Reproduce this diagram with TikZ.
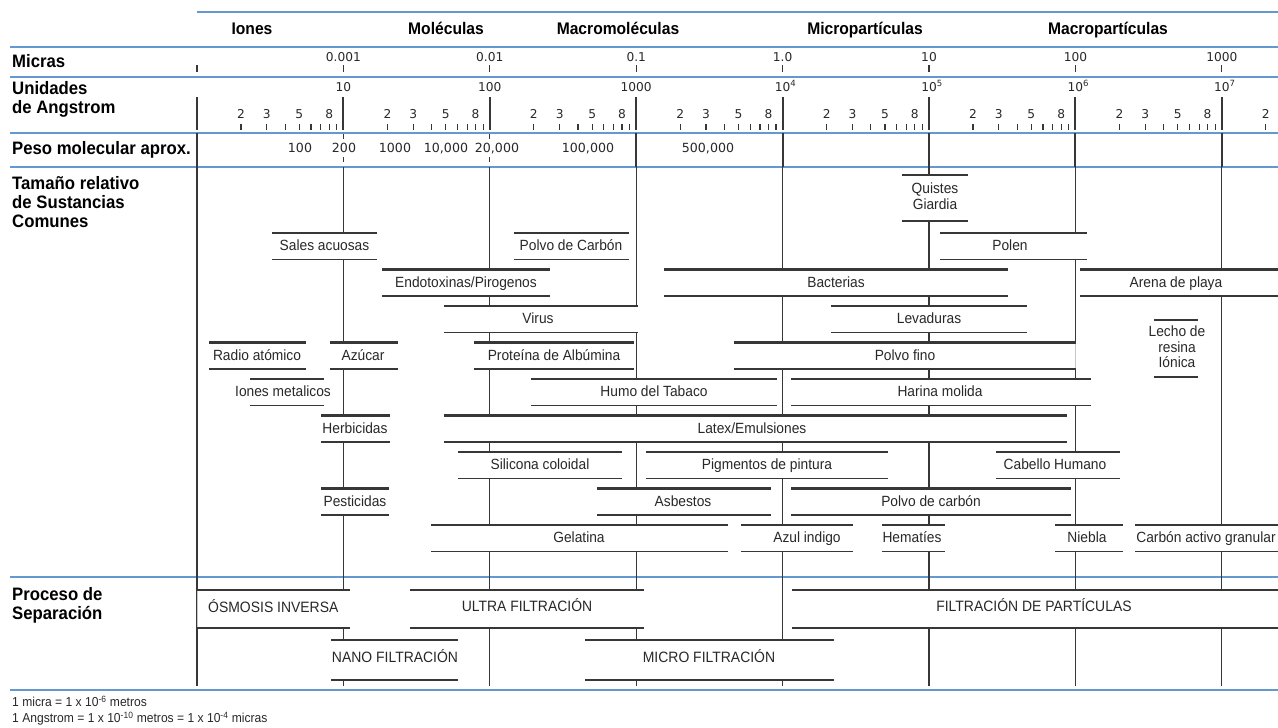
\documentclass[tikz,border=0pt]{standalone}
\usepackage{fontspec}
\setmainfont{Liberation Sans}[FakeStretch=0.93]
\newfontfamily\numfont{DejaVu Sans}
\definecolor{bl}{RGB}{100,152,208}
\definecolor{ln}{RGB}{55,55,55}
\definecolor{tx}{RGB}{40,40,40}
\tikzset{
 blueline/.style={draw=bl, line width=2.4pt},
 gridl/.style={draw=ln, line width=1.3pt},
 major/.style={draw=ln, line width=2pt},
 minor/.style={draw=ln, line width=1.2pt},
 topbar/.style={draw=ln, line width=2.3pt},
 botbar/.style={draw=ln, line width=1.5pt},
 lbl/.style={inner sep=0pt, anchor=mid, yshift=-2pt, text=tx, font=\fontsize{14.8}{16}\selectfont},
 plbl/.style={inner sep=0pt, anchor=mid, yshift=0pt, text=tx, font=\fontsize{15}{16}\selectfont},
 head/.style={inner sep=0pt, anchor=mid west, yshift=-2.5pt, font=\bfseries\fontsize{18}{19}\selectfont},
 cat/.style={inner sep=0pt, anchor=mid, yshift=-2.5pt, font=\bfseries\fontsize{16.8}{18}\selectfont},
 num/.style={inner sep=0pt, anchor=mid, yshift=-1.5pt, text=tx, font=\numfont\fontsize{12.2}{13}\selectfont},
 pnum/.style={inner sep=0pt, anchor=mid, yshift=-1.5pt, text=tx, font=\numfont\fontsize{12.6}{14}\selectfont},
 foot/.style={inner sep=0pt, anchor=mid west, yshift=-1pt, text=tx, font=\fontsize{13}{14}\selectfont},
}
% #1 name, #2 x1, #3 x2, #4 ytop, #5 text x, #6 label
\newcommand\sband[6]{%
 \fill[white] (#2,#4) rectangle (#3,#4+26.5);
 \draw[topbar] (#2,#4) -- (#3,#4);
 \draw[botbar] (#2,#4+26.5) -- (#3,#4+26.5);
 \node[lbl] (#1) at (#5,#4+13) {#6};}
% #1 name, #2 x1, #3 x2, #4 ytop, #5 ybot, #6 text x, #7 label
\newcommand\pband[7]{%
 \fill[white] (#2,#4) rectangle (#3,#5);
 \draw[topbar] (#2,#4) -- (#3,#4);
 \draw[botbar] (#2,#5) -- (#3,#5);
 \node[plbl] (#1) at (#6,{(#4+#5)/2}) {#7};}
\begin{document}
\begin{tikzpicture}[x=1pt,y=-1pt]
\useasboundingbox (0,0) rectangle (1278,728);
% blue rules
\draw[blueline] (197,12) -- (1278,12);
\foreach \yy in {47,77,133,167,577,690} \draw[blueline] (10,\yy) -- (1278,\yy);
% category headers
\node[cat] (c1) at (252,29) {Iones};
\node[cat] (c2) at (446,29) {Moléculas};
\node[cat] (c3) at (618,29) {Macromoléculas};
\node[cat] (c4) at (865,29) {Micropartículas};
\node[cat] (c5) at (1108,29) {Macropartículas};
% row headers
\node[head] (h1) at (12,62) {Micras};
\node[head] (h2) at (12,89) {Unidades};
\node[head] (h3) at (12,108) {de Angstrom};
\node[head] (h4) at (12,149) {Peso molecular aprox.};
\node[head] (h5) at (12,184) {Tamaño relativo};
\node[head] (h6) at (12,203) {de Sustancias};
\node[head] (h7) at (12,222) {Comunes};
\node[head] (h8) at (12,595) {Proceso de};
\node[head] (h9) at (12,614) {Separación};
% micras row
\foreach \k in {0,...,7}{
 \pgfmathsetmacro\xx{197+146.4*\k}
 \draw[minor] (\xx,65) -- (\xx,72);
 \draw[major] (\xx,97) -- (\xx,130);
}
\node[num] (u1) at (343.4,57) {0.001};
\node[num] (u2) at (489.8,57) {0.01};
\node[num] (u3) at (636.2,57) {0.1};
\node[num] (u4) at (782.6,57) {1.0};
\node[num] (u5) at (929,57) {10};
\node[num] (u6) at (1075.4,57) {100};
\node[num] (u7) at (1221.8,57) {1000};
% angstrom row
\node[num] (a1) at (343.4,87) {10};
\node[num] (a2) at (489.8,87) {100};
\node[num] (a3) at (636.2,87) {1000};
\node[num] (a4) at (785.6,87) {10\textsuperscript{4}};
\node[num] (a5) at (932,87) {10\textsuperscript{5}};
\node[num] (a6) at (1078.4,87) {10\textsuperscript{6}};
\node[num] (a7) at (1224.8,87) {10\textsuperscript{7}};
\foreach \k in {0,...,6}{
 \foreach \m in {2,...,9}{
  \pgfmathsetmacro\xx{197+146.4*(\k+log10(\m))}
  \draw[minor] (\xx,124) -- (\xx,130);
 }
 \foreach \m in {2,3,5,8}{
  \pgfmathsetmacro\xx{197+146.4*(\k+log10(\m))}
  \node[num] (t\k\m) at (\xx,114) {\m};
 }
}
\pgfmathsetmacro\xx{197+146.4*(7+log10(2))}
\draw[minor] (\xx,124) -- (\xx,130);
\node[num] (t72) at (\xx,114) {2};
% peso molecular row
\draw[major] (197,133) -- (197,167);
\foreach \xx in {636.2,782.6,929,1075.4,1221.8} \draw[major] (\xx,133) -- (\xx,167);
\foreach \xx in {343.4,489.8}{\draw[minor] (\xx,134) -- (\xx,139); \draw[minor] (\xx,157) -- (\xx,162);}
\node[pnum] (p1) at (300,148) {100};
\node[pnum] (p2) at (344,148) {200};
\node[pnum] (p3) at (395,148) {1000};
\node[pnum] (p4) at (446,148) {10,000};
\node[pnum] (p5) at (497,148) {20,000};
\node[pnum] (p6) at (588,148) {100,000};
\node[pnum] (p7) at (708,148) {500,000};
% grid verticals
\foreach \k in {0,...,7}{
 \pgfmathsetmacro\xx{197+146.4*\k}
 \draw[gridl] (\xx,167) -- (\xx,577);
 \draw[gridl] (\xx,577) -- (\xx,686);
}
% substances
\fill[white] (902,175) rectangle (968,221);
\draw[topbar] (902,175) -- (968,175);
\draw[botbar] (902,221) -- (968,221);
\node[lbl] (q1) at (935,189) {Quistes};
\node[lbl] (q2) at (935,205) {Giardia};
\sband{sal}{272}{377}{233}{324.5}{Sales acuosas}
\sband{pcb}{514}{629}{233}{571}{Polvo de Carbón}
\sband{pol}{940}{1087}{233}{1010}{Polen}
\sband{end}{382}{550}{269.5}{466}{Endotoxinas/Pirogenos}
\sband{bac}{664}{1008}{269.5}{836}{Bacterias}
\sband{are}{1080}{1278}{269.5}{1176}{Arena de playa}
\sband{vir}{444}{638}{306}{538}{Virus}
\sband{lev}{831}{1027}{306}{929}{Levaduras}
\sband{rad}{209}{306}{342.5}{257}{Radio atómico}
\sband{azu}{330}{398}{342.5}{363}{Azúcar}
\sband{pro}{474}{634}{342.5}{554}{Proteína de Albúmina}
\sband{fin}{734}{1075}{342.5}{905}{Polvo fino}
\draw[draw=gray!45, line width=1pt] (1075.4,343.5) -- (1075.4,368);
\sband{ion}{250}{324}{379}{283}{Iones metalicos}
\sband{hum}{531}{777}{379}{654}{Humo del Tabaco}
\sband{har}{791}{1091}{379}{940}{Harina molida}
\sband{her}{321}{390}{415.5}{355}{Herbicidas}
\sband{lat}{444}{1067}{415.5}{752}{Latex/Emulsiones}
\sband{sil}{458}{622}{452}{540}{Silicona coloidal}
\sband{pig}{646}{888}{452}{767}{Pigmentos de pintura}
\sband{cab}{996}{1120}{452}{1055}{Cabello Humano}
\sband{pes}{321}{389}{488.5}{355}{Pesticidas}
\sband{asb}{597}{771}{488.5}{683}{Asbestos}
\sband{pcr}{791}{1071}{488.5}{931}{Polvo de carbón}
\sband{gel}{431}{728}{525}{579}{Gelatina}
\sband{azl}{741}{853}{525}{807}{Azul indigo}
\sband{hem}{882}{945}{525}{912}{Hematíes}
\sband{nie}{1055}{1123}{525}{1087}{Niebla}
\sband{cag}{1135}{1278}{525}{1206}{Carbón activo granular}
% lecho de resina
\draw[topbar] (1154,320) -- (1198,320);
\draw[botbar] (1154,377) -- (1198,377);
\node[lbl] (l1) at (1177,332) {Lecho de};
\node[lbl] (l2) at (1177,347.5) {resina};
\node[lbl] (l3) at (1177,363) {Iónica};
% separation processes
\pband{osm}{197}{350}{590}{628}{272}{}
\node[plbl, anchor=mid west] (osml) at (208,609.5) {ÓSMOSIS INVERSA};
\draw[draw=gray!45, line width=1pt] (197,591) -- (197,627);
\pband{ult}{410}{644}{590}{628}{527}{ULTRA FILTRACIÓN}
\pband{fpa}{792}{1278}{590}{628}{1034}{FILTRACIÓN DE PARTÍCULAS}
\pband{nan}{331}{458}{640}{680}{395}{NANO FILTRACIÓN}
\pband{mic}{585}{834}{640}{680}{709}{MICRO FILTRACIÓN}
% footnotes
\node[foot] (f1) at (12,703) {1 micra = 1 x 10\textsuperscript{-6} metros};
\node[foot] (f2) at (12,719) {1 Angstrom = 1 x 10\textsuperscript{-10} metros = 1 x 10\textsuperscript{-4} micras};
\end{tikzpicture}
\end{document}
